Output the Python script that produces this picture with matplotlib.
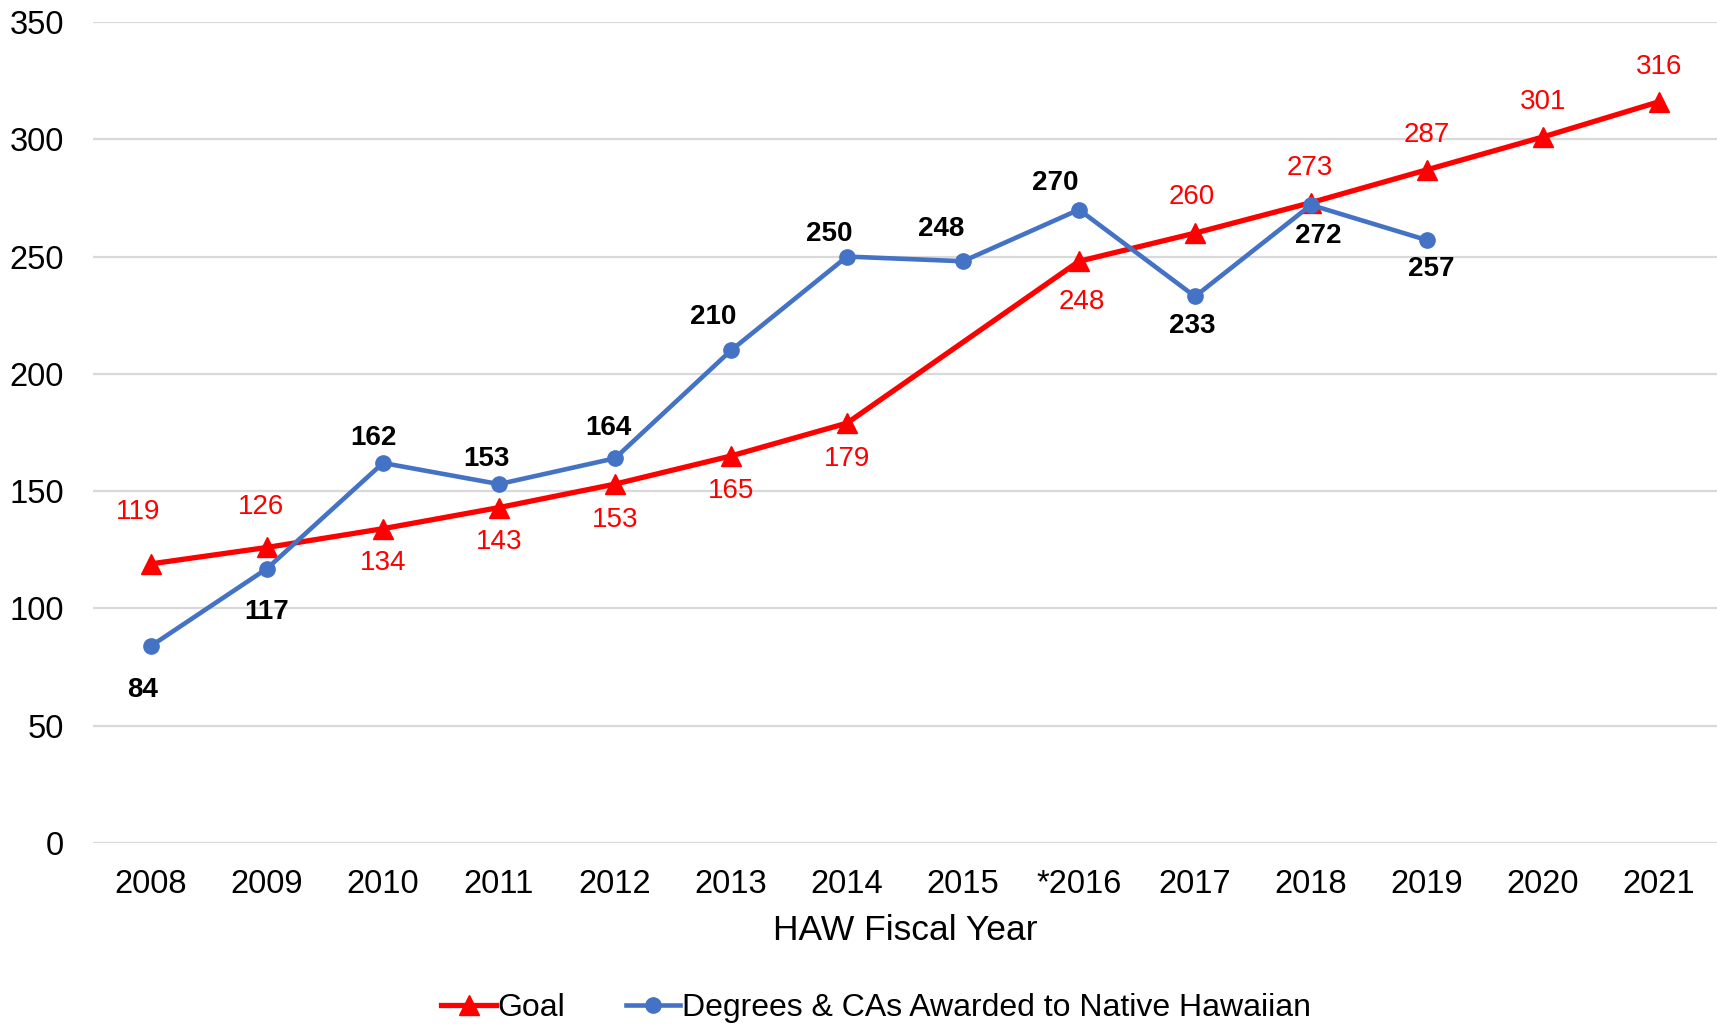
import numpy as np
import matplotlib.pyplot as plt

plt.rcParams['font.family'] = ['Liberation Sans', 'DejaVu Sans']

########## Data
years = ['2008', '2009', '2010', '2011', '2012', '2013', '2014', '2015',
         '*2016', '2017', '2018', '2019', '2020', '2021']
# goal has no value for 2015 (line is just joined across the gap)
goal = [119, 126, 134, 143, 153, 165, 179, np.nan,
        248, 260, 273, 287, 301, 316]
awarded = [84, 117, 162, 153, 164, 210, 250, 248, 270, 233, 272, 257]

########## Label placement (offsets in points, dx / dy)
goal_dx = [-9, -4, 0, 0, 0, 0, 0, 0, 2, -2, -1, 0, 0, 0]
goal_dy = [37, 29, -25, -25, -26, -25, -26, 0, -29, 26, 25, 25, 25, 25]
aw_dx = [-6, 0, -7, -9, -5, -13, -13, -16, -17, -2, 5, 3]
aw_dy = [-32, -31, 18, 18, 22, 24, 16, 23, 19, -21, -22, -21]

red = '#FF0000'
blue = '#4472C4'

fig = plt.figure(figsize=(17.17, 10.24), dpi=100)
ax = fig.add_axes([93/1717, 1-843/1024, 1-93/1717, (843-22)/1024])

x = np.arange(len(years))
goal_arr = np.array(goal, dtype=float)
ok = ~np.isnan(goal_arr)

ax.plot(x[ok], goal_arr[ok], color=red, lw=3.8, marker='^', ms=14,
        label='Goal', zorder=3)
xa = x[:len(awarded)]
ax.plot(xa, awarded, color=blue, lw=3.3, marker='o', ms=11,
        label='Degrees & CAs Awarded to Native Hawaiian', zorder=4)

for i, v in enumerate(goal):
    if np.isnan(v):
        continue
    ax.annotate(f'{int(v)}', (i, v), xytext=(goal_dx[i], goal_dy[i]),
                textcoords='offset points', ha='center', va='center',
                color=red, fontsize=20, zorder=5)

for i, v in enumerate(awarded):
    ax.annotate(f'{v}', (i, v), xytext=(aw_dx[i], aw_dy[i]),
                textcoords='offset points', ha='center', va='center',
                color='black', fontsize=20, fontweight='bold', zorder=5)

ax.set_xlim(-0.5, len(years) - 0.5)
ax.set_ylim(0, 350)
ax.set_yticks(range(0, 351, 50))
ax.set_xticks(x)
ax.set_xticklabels(years)
ax.tick_params(axis='both', length=0, labelsize=23.5)
ax.tick_params(axis='x', pad=19)
ax.tick_params(axis='y', pad=21)
ax.grid(axis='y', color='#D9D9D9', lw=1.6)
ax.set_axisbelow(True)
for s in ax.spines.values():
    s.set_visible(False)

ax.set_xlabel('HAW Fiscal Year', fontsize=25.5, labelpad=10)

fig.legend(loc='center', bbox_to_anchor=(876/1717, 1-1008/1024), ncol=2,
           frameon=False, fontsize=23, handlelength=1.7, handletextpad=0.05,
           columnspacing=1.9)

plt.savefig('out.png')
plt.close()
